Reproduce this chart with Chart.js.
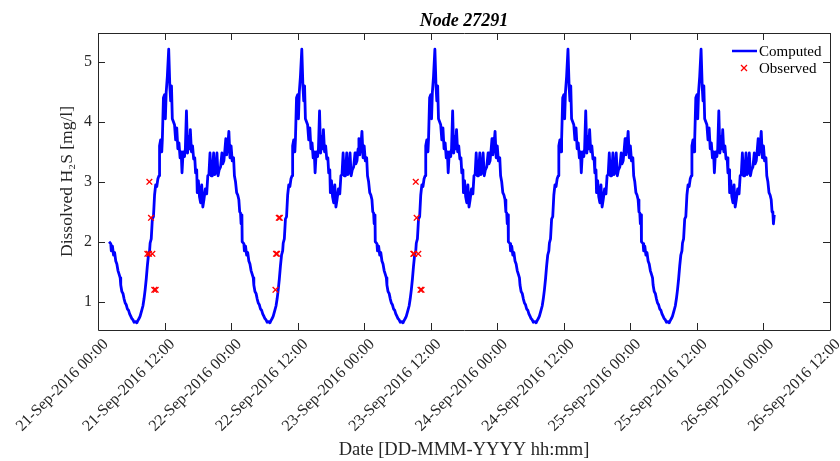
<!DOCTYPE html>
<html>
<head>
<meta charset="utf-8">
<script src="https://cdn.jsdelivr.net/npm/chart.js@4.4.0/dist/chart.umd.min.js"></script>
<style>
  html, body { margin: 0; padding: 0; background: #fff; }
</style>
</head>
<body>
<canvas id="myChart" width="840" height="461"></canvas>
<script>
// one simulated day of the computed curve (hour of the day, mg/l);
// the model output repeats the same daily cycle, 21-Sep 02:00 to 26-Sep 02:00
const dayHours = [
  2.0, 2.3, 2.4, 2.6, 2.8, 3.0, 3.2, 3.4, 3.6, 3.8, 4.0, 4.1, 4.3, 4.5, 4.7, 4.9,
  5.1, 5.3, 5.5, 5.7, 5.9, 6.1, 6.3, 6.5, 6.8, 7.0, 7.2, 7.4, 7.6, 7.9, 8.1, 8.3,
  8.5, 8.7, 8.9, 9.1, 9.3, 9.4, 9.6, 9.8, 10.0, 10.2, 10.4, 10.6, 10.8, 11.0, 11.1,
  11.3, 11.5, 11.6, 11.8, 12.0, 12.15, 12.3, 12.5, 12.75, 12.95, 13.1, 13.25, 13.4,
  13.6, 13.8, 14.0, 14.2, 14.4, 14.6, 14.8, 15.0, 15.15, 15.35, 15.6, 15.75, 15.95,
  16.15, 16.35, 16.5, 16.65, 16.85, 17.05, 17.25, 17.45, 17.6, 17.8, 17.9, 18.1,
  18.3, 18.5, 18.7, 18.9, 19.1, 19.35, 19.6, 19.8, 20.0, 20.2, 20.4, 20.6, 20.85,
  21.05, 21.25, 21.45, 21.65, 21.85, 22.1, 22.35, 22.5, 22.7, 22.9, 23.05, 23.2,
  23.4, 23.6, 23.8, 24.0, 24.2, 24.45, 24.6, 24.8, 25.0, 25.2, 25.4, 25.55, 25.7,
  25.8, 25.95
];
const dayValues = [
  2.0, 1.97, 1.85, 1.93, 1.78, 1.82, 1.68, 1.63, 1.52, 1.46, 1.4, 1.28, 1.17, 1.14, 1.05, 0.98,
  0.95, 0.88, 0.86, 0.8, 0.76, 0.72, 0.7, 0.66, 0.67, 0.65, 0.69, 0.72, 0.76, 0.86, 0.93, 1.05,
  1.2, 1.38, 1.6, 1.78, 1.85, 1.98, 2.05, 2.38, 2.42, 2.78, 2.95, 2.92, 3.05, 3.1, 3.6,
  3.7, 3.5, 3.7, 4.4, 4.45, 4.05, 4.5, 4.75, 5.21, 4.6, 4.35, 4.6, 4.05,
  4.0, 3.95, 3.7, 3.9, 3.55, 3.65, 3.4, 3.5, 3.15, 3.5, 3.42, 3.55, 4.18,
  3.48, 3.75, 3.55, 3.87, 3.5, 3.6, 3.38, 3.4, 3.15, 3.2, 2.82, 3.02,
  2.75, 2.65, 2.95, 2.58, 2.7, 2.88, 2.8, 3.1, 3.12, 3.48, 3.1, 3.1, 3.48,
  3.12, 3.15, 3.48, 3.1, 3.2, 3.25, 3.48, 3.3, 3.35, 3.55, 3.72, 3.45,
  3.6, 3.84, 3.4, 3.6, 3.35, 3.4, 3.1, 3.0, 2.82, 2.78, 2.7, 2.5, 2.48,
  2.3, 2.45
];
const numDays = 5;

// observed samples, hours after 21-Sep-2016 00:00
const obsHours = [9.26, 9.56, 8.9, 9.2, 9.8, 10.15, 10.4,
  32.6, 32.8, 32.1, 32.3, 32.0,
  57.3, 57.46, 56.86, 57.0, 57.76, 58.15, 58.35];
const obsValues = [3.0, 2.4, 1.8, 1.8, 1.8, 1.2, 1.2,
  2.4, 2.4, 1.8, 1.8, 1.2,
  3.0, 2.4, 1.8, 1.8, 1.8, 1.2, 1.2];

const xTicks = [0, 12, 24, 36, 48, 60, 72, 84, 96, 108, 120, 132];
const xTickLabels = [
  "21-Sep-2016 00:00", "21-Sep-2016 12:00", "22-Sep-2016 00:00", "22-Sep-2016 12:00",
  "23-Sep-2016 00:00", "23-Sep-2016 12:00", "24-Sep-2016 00:00", "24-Sep-2016 12:00",
  "25-Sep-2016 00:00", "25-Sep-2016 12:00", "26-Sep-2016 00:00", "26-Sep-2016 12:00"
];
const yTicks = [1, 2, 3, 4, 5];

let computed_list = [];
for (let d = 0; d < numDays; d++) {
  for (let i = 0; i < dayHours.length; i++) {
    computed_list.push({ x: d * 24 + dayHours[i], y: dayValues[i] });
  }
}
let observed_list = [];
for (let i = 0; i < obsHours.length; i++) {
  observed_list.push({ x: obsHours[i], y: obsValues[i] });
}

const serif = "'Liberation Serif', 'Times New Roman', serif";
const axisColor = "#262626";

// box, inward ticks, title and legend like the matlab figure
const matlabLook = {
  id: "matlabLook",
  afterDraw(chart) {
    const c = chart.ctx;
    const a = chart.chartArea;
    const xs = chart.scales.x;
    const ys = chart.scales.y;
    const tl = 7;
    c.save();
    c.strokeStyle = axisColor;
    c.lineWidth = 1;
    c.beginPath();
    c.rect(Math.round(a.left) + 0.5, Math.round(a.top) + 0.5,
      Math.round(a.right - a.left), Math.round(a.bottom - a.top));
    for (const v of xTicks) {
      const px = Math.round(xs.getPixelForValue(v)) + 0.5;
      c.moveTo(px, a.bottom); c.lineTo(px, a.bottom - tl);
      c.moveTo(px, a.top); c.lineTo(px, a.top + tl);
    }
    for (const v of yTicks) {
      const py = Math.round(ys.getPixelForValue(v)) + 0.5;
      c.moveTo(a.left, py); c.lineTo(a.left + tl, py);
      c.moveTo(a.right, py); c.lineTo(a.right - tl, py);
    }
    c.stroke();

    // title
    c.fillStyle = "#000";
    c.font = "italic bold 18px " + serif;
    c.textAlign = "center";
    c.textBaseline = "alphabetic";
    c.fillText("Node 27291", (a.left + a.right) / 2, 26);

    // legend
    const lx = a.right - 98;
    c.strokeStyle = "#0000FF";
    c.lineWidth = 2.5;
    c.beginPath();
    c.moveTo(lx, 51); c.lineTo(lx + 25, 51);
    c.stroke();
    c.strokeStyle = "#FF0000";
    c.lineWidth = 1.3;
    c.beginPath();
    c.moveTo(lx + 9, 65); c.lineTo(lx + 15, 71);
    c.moveTo(lx + 15, 65); c.lineTo(lx + 9, 71);
    c.stroke();
    c.fillStyle = "#000";
    c.font = "15px " + serif;
    c.textAlign = "left";
    c.fillText("Computed", lx + 27, 56);
    c.fillText("Observed", lx + 27, 73);
    c.restore();
  }
};

const ctx = document.getElementById("myChart").getContext("2d");
var myChart = new Chart(ctx, {
  type: "scatter",
  data: {
    datasets: [
      {
        label: "Computed",
        data: computed_list,
        showLine: true,
        borderColor: "#0000FF",
        backgroundColor: "#0000FF",
        borderWidth: 2.8,
        borderJoinStyle: "round",
        pointRadius: 0,
        pointHoverRadius: 0,
        order: 2,
      },
      {
        label: "Observed",
        data: observed_list,
        showLine: false,
        pointStyle: "crossRot",
        pointRadius: 4,
        borderColor: "#FF0000",
        backgroundColor: "#FF0000",
        borderWidth: 1.4,
        order: 1,
      },
    ],
  },
  options: {
    responsive: false,
    animation: false,
    layout: { padding: { top: 33, right: 10, left: 0, bottom: 0 } },
    plugins: {
      legend: { display: false },
      title: { display: false },
      tooltip: { enabled: false },
    },
    scales: {
      x: {
        type: "linear",
        position: "bottom",
        min: 0,
        max: 132,
        grid: { display: false, drawTicks: false },
        border: { display: false },
        afterBuildTicks: (scale) => {
          scale.ticks = xTicks.map((v) => ({ value: v }));
        },
        afterFit: (scale) => {
          scale.height = 131;
          scale.paddingLeft = 0;
          scale.paddingRight = 0;
        },
        ticks: {
          autoSkip: false,
          minRotation: 45,
          maxRotation: 45,
          padding: 5,
          labelOffset: 8,
          color: axisColor,
          font: { family: serif, size: 16 },
          callback: (value) => xTickLabels[xTicks.indexOf(value)],
        },
        title: {
          display: true,
          text: "Date [DD-MMM-YYYY hh:mm]",
          color: axisColor,
          font: { family: serif, size: 18.5 },
          padding: { top: 0, bottom: 0 },
        },
      },
      y: {
        type: "linear",
        min: 0.53,
        max: 5.48,
        grid: { display: false, drawTicks: false },
        border: { display: false },
        afterBuildTicks: (scale) => {
          scale.ticks = yTicks.map((v) => ({ value: v }));
        },
        afterFit: (scale) => {
          scale.width = 98;
          scale.paddingTop = 0;
          scale.paddingBottom = 0;
        },
        ticks: {
          padding: 6,
          color: axisColor,
          font: { family: serif, size: 16 },
        },
        title: {
          display: true,
          text: "Dissolved H\u2082S [mg/l]",
          color: axisColor,
          font: { family: serif, size: 17.5 },
          padding: { top: 57, bottom: 0 },
        },
      },
    },
  },
  plugins: [matlabLook],
});
</script>
</body>
</html>
